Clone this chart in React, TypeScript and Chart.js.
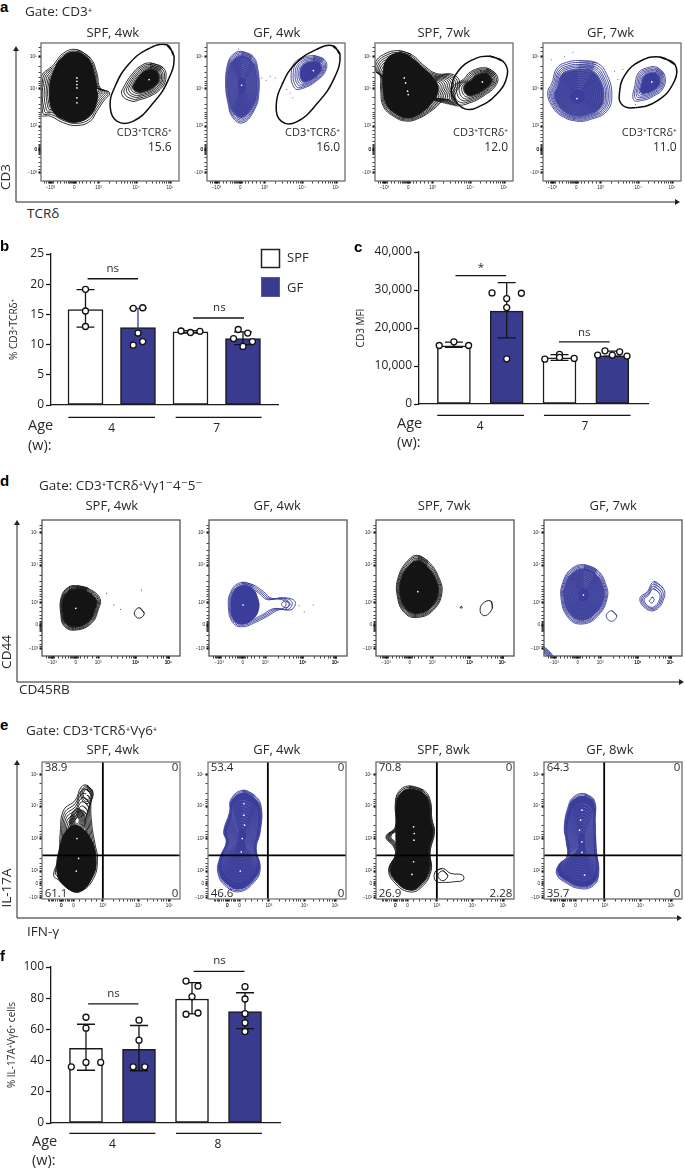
import React, { useEffect, useRef } from "react";
import { Chart, registerables } from "chart.js";
Chart.register(...registerables);

type P = [number, number];
type Blob = { outline: P[]; center: P; levels: number[]; coreK?: number; coreShape?: P[]; mesh?: number[] };

const FONT = '"Open Sans", "DejaVu Sans", sans-serif';
const BLACK = "#141414";
const BLUE = "#3a3d9a";
const BAR_BLUE = "#393b8f";

// contour levels: fraction of the outer contour kept by each inner contour
const RIM_WIDE = [1, .95, .9, .85, .8, .76, .72, .68];
const RIM_MID = [1, .95, .9, .86, .82, .78];
const RIM_THIN = [1, .96, .92, .88, .85];
const RIM_TIGHT = [1, .975];
const SIDE_RINGS = [1, .91, .82, .74, .66, .6];
const LOOSE = [1, .88, .76, .64, .52, .4, .28];
const BRIDGE = [1, .96, .92, .88, .84, .8, .76, .72, .68, .64, .6, .56, .52];
const RINGS = [1, .8, .6, .4];
const SINGLE = [1];
const BODY_RINGS = [1, .93, .86, .79, .72, .65, .58];
const BUMP_RINGS = [1, .97, .94, .91, .88, .85, .82];
const MESH = [.8, .74, .68, .62, .56, .5, .44, .38, .32, .26];

// ---------- panel a: CD3 vs TCRd (axis units of the transformed channel)
const A1_MAIN: P[] = [[108, 20], [148, 45], [168, 90], [178, 135], [206, 150], [188, 175], [168, 205], [148, 235], [108, 248], [68, 240], [28, 220], [0, 215], [0, 105], [38, 65], [68, 30]];
const A1_CORE: P[] = [[108, 28], [145, 52], [160, 95], [168, 140], [168, 175], [150, 215], [108, 238], [68, 230], [36, 205], [26, 150], [36, 90], [68, 40]];
const A1_SIDE: P[] = [[328, 60], [368, 75], [375, 110], [358, 140], [328, 160], [298, 170], [273, 175], [243, 155], [253, 125], [273, 95], [298, 70]];
const A1_GATE: P[] = [[378, 5], [400, 40], [383, 110], [338, 180], [278, 235], [228, 235], [208, 190], [223, 130], [263, 65], [318, 20]];
const A1_BRIGHT: P[] = [[108, 105], [108, 115], [108, 125], [108, 135], [108, 165], [108, 180], [325, 110]];
const A2_MAIN: P[] = [[103, 25], [138, 40], [153, 80], [156, 150], [143, 200], [108, 240], [78, 225], [63, 180], [56, 120], [63, 60], [78, 35]];
const A2_SIDE: P[] = [[318, 38], [353, 50], [358, 80], [328, 115], [283, 138], [263, 135], [253, 95], [268, 55]];
const A2_GATE: P[] = [[378, 8], [400, 35], [383, 105], [333, 180], [268, 238], [223, 235], [208, 190], [228, 120], [268, 60], [328, 20]];
const A2_DOTS: P[] = [[165, 105], [178, 112], [190, 100], [205, 105], [225, 120], [240, 140], [258, 165], [250, 150], [95, 18]];
const A3_MAIN: P[] = [[70, 23], [110, 35], [150, 70], [185, 92], [235, 95], [255, 120], [240, 160], [250, 190], [215, 170], [175, 200], [135, 225], [95, 235], [55, 220], [25, 190], [17, 140], [15, 95], [0, 85], [0, 60], [25, 35]];
const A3_CORE: P[] = [[70, 30], [105, 42], [145, 75], [175, 105], [190, 140], [170, 180], [130, 215], [95, 225], [60, 210], [35, 185], [25, 140], [25, 90], [35, 50]];
const A3_SIDE: P[] = [[335, 75], [365, 95], [365, 125], [325, 160], [285, 180], [250, 185], [230, 160], [235, 130], [265, 110], [290, 85]];
const A3_GATE: P[] = [[345, 40], [385, 55], [398, 95], [365, 155], [305, 195], [270, 198], [240, 170], [230, 135], [250, 85], [295, 50]];
const A3_BRIGHT: P[] = [[100, 155], [98, 145], [92, 120], [88, 105], [323, 117]];
const A4_MAIN: P[] = [[107, 53], [162, 60], [192, 95], [207, 155], [192, 205], [142, 230], [102, 235], [57, 220], [27, 190], [14, 150], [27, 120], [42, 75], [72, 58]];
const A4_SIDE: P[] = [[342, 73], [365, 95], [362, 135], [332, 160], [297, 173], [272, 170], [277, 125], [287, 90], [312, 75]];
const A4_GATE: P[] = [[352, 42], [397, 65], [395, 115], [342, 175], [272, 195], [237, 185], [230, 150], [247, 95], [292, 55]];
const A4_DOTS: P[] = [[25, 50], [65, 40], [90, 28], [215, 85], [240, 80], [225, 110], [278, 185]];

// ---------- panel d: CD44 vs CD45RB
const D1_MAIN: P[] = [[103, 197], [138, 205], [173, 235], [168, 270], [148, 310], [103, 330], [68, 320], [56, 280], [58, 230], [78, 202]];
const D1_SPOT: P[] = [[291, 263], [306, 280], [291, 295], [276, 280]];
const D1_DOTS: P[] = [[193, 220], [215, 255], [235, 268], [298, 210]];
const D2_MAIN: P[] = [[98, 187], [133, 195], [163, 215], [188, 235], [223, 233], [253, 240], [258, 255], [243, 270], [213, 268], [173, 290], [143, 305], [103, 320], [73, 310], [58, 260], [68, 210]];
const D2_CORE: P[] = [[98, 198], [128, 205], [145, 232], [148, 270], [128, 300], [100, 312], [76, 302], [66, 260], [74, 215]];
const D2_SPOT: P[] = [[230, 243], [243, 253], [230, 263], [217, 253]];
const D2_DOTS: P[] = [[270, 257], [285, 275], [312, 255]];
const D3_MAIN: P[] = [[125, 106], [157, 125], [187, 170], [197, 220], [172, 270], [127, 292], [87, 280], [64, 230], [67, 170], [97, 120]];
const D3_TINY: P[] = [[255, 259], [258, 262], [255, 265], [252, 262]];
const D3_SPOT: P[] = [[344, 243], [348, 265], [327, 287], [312, 275], [320, 250]];
const D4_MAIN: P[] = [[119, 134], [159, 150], [184, 190], [189, 235], [159, 290], [114, 312], [74, 295], [51, 235], [59, 180], [84, 145]];
const D4_RING: P[] = [[202, 272], [218, 288], [202, 304], [186, 288]];
const D4_RIGHT: P[] = [[329, 185], [357, 205], [359, 235], [334, 270], [304, 265], [287, 235], [309, 215]];
const D4_CORNER: P[] = [[0, 383], [25, 408], [0, 433], [-25, 408]];

// ---------- panel e: IL-17A vs IFN-g
const E1_OUTER: P[] = [[135, 70], [153, 90], [147, 125], [150, 190], [160, 250], [167, 290], [155, 350], [115, 390], [85, 385], [50, 355], [35, 340], [50, 290], [55, 210], [65, 145], [100, 115], [118, 75]];
const E1_LOW: P[] = [[103, 190], [140, 220], [162, 290], [150, 350], [110, 390], [65, 370], [45, 330], [55, 250], [75, 205]];
const E1_MID: P[] = [[110, 140], [128, 160], [125, 200], [105, 215], [85, 195], [90, 155]];
const E1_TOP: P[] = [[135, 72], [152, 90], [148, 115], [135, 125], [120, 112], [118, 88]];
const E1_BRIGHT: P[] = [[103, 328], [105, 230], [135, 97], [110, 290], [105, 175]];
const E2_MAIN: P[] = [[105, 85], [140, 100], [160, 135], [157, 210], [145, 260], [157, 320], [140, 360], [95, 390], [55, 375], [30, 335], [35, 290], [55, 240], [47, 210], [65, 150], [70, 110]];
const E2_BRIGHT: P[] = [[108, 125], [100, 270], [97, 328], [110, 190], [108, 160], [103, 230]];
const E3_MAIN: P[] = [[98, 72], [143, 85], [163, 115], [168, 170], [176, 210], [163, 270], [165, 330], [133, 380], [98, 390], [58, 365], [38, 325], [58, 280], [53, 255], [30, 225], [58, 195], [58, 125], [68, 90]];
const E3_BODY: P[] = [[100, 82], [143, 95], [158, 122], [162, 175], [170, 210], [157, 270], [158, 330], [128, 375], [98, 384], [62, 360], [44, 325], [62, 280], [60, 240], [60, 195], [62, 130], [72, 98]];
const E3_TAIL: P[] = [[178, 330], [200, 320], [225, 335], [260, 340], [262, 355], [235, 360], [210, 362], [180, 358]];
const E3_SPOT: P[] = [[201, 327], [216, 342], [201, 357], [186, 342]];
const E3_BRIGHT: P[] = [[115, 215], [113, 300], [108, 338], [113, 195], [114, 235]];
const E4_MAIN: P[] = [[121, 95], [151, 115], [154, 180], [157, 260], [164, 340], [144, 375], [104, 380], [69, 365], [39, 340], [44, 310], [69, 285], [67, 240], [61, 195], [74, 130], [89, 105]];
const E4_BRIGHT: P[] = [[114, 145], [107, 205], [114, 272], [122, 340], [110, 175], [114, 240]];

// ---------- tick positions and labels of the flow axes
const MINOR_X_TICKS = [12, 18, 23, 26, 29, 32, 35, 38, 50, 60, 70, 78, 84, 87, 90, 93, 96, 99, 102, 105, 108, 116, 126, 136, 150, 162, 207, 227, 241, 252, 261, 268, 275, 281, 317, 335, 347, 357, 365, 372, 378, 383];
const MINOR_Y_TICKS = [15, 25, 70, 90, 105, 115, 122, 128, 165, 185, 198, 208, 215, 222, 228, 238, 262, 275, 285, 295, 305, 308, 311, 314, 317, 320, 323, 326, 329, 332, 335, 345, 360, 372, 380];
const E_MINOR_X_TICKS = [20, 24, 28, 32, 36, 40, 46, 52, 58, 64, 70, 76, 80, 84, 88, 112, 130, 150, 165, 215, 232, 245, 258, 266, 273, 278, 318, 336, 348, 358, 366, 373, 379];
const E_MINOR_Y_TICKS = [65, 95, 112, 120, 125, 162, 190, 208, 218, 224, 260, 290, 305, 315, 320, 345, 352, 358, 372, 380, 388, 395, 400];
const A_X_TICKS = [28, 100, 173, 286, 388];
const A_Y_TICKS = [40, 138, 250, 320, 390];
const D_X_TICKS = [30, 101, 168, 281, 378];
const D_Y_TICKS = [37, 135, 248, 315, 385];
const E_X_TICKS = [58, 95, 183, 290, 383];
const E_Y_TICKS = [37, 133, 230, 328, 365, 407];
const LOG_X_LABELS = ["−10³", "0", "10³", "10⁴", "10⁵"];
const LOG_Y_LABELS = ["10⁵", "10⁴", "10³", "0", "−10³"];
const E_X_LABELS = ["0", "0", "10³", "10⁴", "10⁵"];
const E_Y_LABELS = ["10⁵", "10⁴", "10³", "10²", "0", "−10²"];

// ---------- bar panels
const B_CATEGORIES = [0, 1, 2, 3];
const B_MEANS = [15.8, 12.8, 12.1, 11.0];
const B_HIGH = [19.1, 16.0, 12.3, 12.1];
const B_LOW = [12.9, 9.7, 11.9, 10.0];
const B_DOTS: P[] = [[0, 19.15], [0, 15.56], [0, 13.0], [.91, 16.0], [1.09, 16.1], [1, 11.9], [1.09, 10.5], [.91, 9.9], [1.82, 12.25], [2, 12.0], [2.18, 12.2], [3, 9.7], [2.91, 12.5], [3.09, 11.9], [2.82, 11.0], [3.18, 10.5]];
const C_CATEGORIES = [0, 1, 2, 3];
const C_MEANS = [15300, 24420, 12170, 12690];
const C_HIGH = [16300, 31950, 13000, 13900];
const C_LOW = [14900, 17400, 11500, 12600];
const C_DOTS: P[] = [[-.278, 15400], [0, 16370], [.278, 15400], [.722, 29230], [1.278, 29150], [1, 27750], [1, 25380], [1, 11900], [1.722, 11800], [2, 13040], [2.278, 11990], [2, 12250], [2.722, 12870], [2.861, 14000], [3, 12870], [3.139, 13740], [3.278, 12600]];
const F_CATEGORIES = [0, 1, 2, 3];
const F_MEANS = [47.8, 47.3, 79.5, 71.4];
const F_HIGH = [63.3, 62.5, 90, 83.5];
const F_LOW = [33.8, 33.5, 70, 60.5];
const F_DOTS: P[] = [[0, 67.8], [0, 60.8], [-.277, 36], [0, 38.8], [.277, 38.8], [1, 65.9], [1, 53.1], [.89, 36], [1.11, 36], [1.887, 91], [2.113, 87.8], [2, 81], [1.887, 69.7], [2.113, 70.5], [3, 87.4], [3, 79.5], [3, 70.1], [3, 64.2], [3, 58.6]];

type Note = { t: string; x: number; y: number; a?: CanvasTextAlign; s?: number };

function ring(pts: P[], c: P, k: number) {
  const out = pts.map(([x, y]) => ({ x: c[0] + (x - c[0]) * k, y: c[1] + (y - c[1]) * k }));
  return [...out, out[0], out[1]];
}
function blobSets(blobs: Blob[], color: string, width: number) {
  const sets: any[] = [];
  const base = { type: "line", borderColor: color, borderWidth: width, pointRadius: 0, tension: 0.45, order: 6 };
  blobs.forEach((b) => {
    b.levels.forEach((k) => sets.push({ ...base, data: ring(b.outline, b.center, k), fill: false }));
    if (b.coreK !== undefined) sets.push({ ...base, data: ring(b.outline, b.center, b.coreK), fill: "shape", backgroundColor: color });
    if (b.coreShape) sets.push({ ...base, data: ring(b.coreShape, b.center, 1), fill: "shape", backgroundColor: color });
    (b.mesh ?? []).forEach((k) => sets.push({ ...base, order: 5, data: ring(b.outline, b.center, k), fill: false, borderColor: "rgba(255,255,255,0.13)", borderWidth: 0.7 }));
  });
  return sets;
}
const notesPlugin = (notes: Note[], frame?: { color: string; width: number }) => ({
  id: "notes",
  afterDraw(chart: any) {
    const ctx = chart.ctx;
    ctx.save();
    if (frame) {
      const a = chart.chartArea;
      ctx.strokeStyle = frame.color;
      ctx.lineWidth = frame.width;
      ctx.strokeRect(a.left, a.top, a.right - a.left, a.bottom - a.top);
    }
    notes.forEach((n) => {
      ctx.font = `${n.s ?? 11}px ${FONT}`;
      ctx.fillStyle = "#2a2a2a";
      ctx.textAlign = n.a ?? "center";
      ctx.textBaseline = "middle";
      ctx.fillText(n.t, chart.scales.x.getPixelForValue(n.x), chart.scales.y.getPixelForValue(n.y));
    });
    ctx.restore();
  },
});

type Flow = {
  left: number; top: number; w: number; h: number; xMax: number; yMax: number; color: string; title: string; titleX: number; titleY: number;
  blobs: Blob[]; gate?: P[]; dots?: P[]; bright?: P[]; notes: Note[]; kind: "a" | "d" | "e"; frame: string; quad?: [number, number];
};

const gateNote = (x: number, v: string): Note[] => [{ t: "CD3⁺TCRδ⁺", x, y: 270, a: "right" }, { t: v, x, y: 315, a: "right", s: 12 }];
const corners = (a: string, b: string, c: string, d: string): Note[] => [
  { t: a, x: 8, y: 18, a: "left", s: 11.5 }, { t: b, x: 410, y: 18, a: "right", s: 11.5 }, { t: c, x: 8, y: 397, a: "left", s: 11.5 }, { t: d, x: 410, y: 397, a: "right", s: 11.5 },
];

const FLOWS: Flow[] = [
  { left: 41, top: 43, w: 138, h: 138, xMax: 415, yMax: 415, color: BLACK, title: "SPF, 4wk", titleX: 216, titleY: -30, kind: "a", frame: "#6e6e6e", gate: A1_GATE, bright: A1_BRIGHT,
    blobs: [{ outline: A1_MAIN, center: [108, 120], levels: RIM_WIDE, coreShape: A1_CORE }, { outline: A1_SIDE, center: [325, 110], levels: SIDE_RINGS, coreK: .58 }], notes: gateNote(393, "15.6") },
  { left: 207, top: 43, w: 138, h: 138, xMax: 415, yMax: 415, color: BLUE, title: "GF, 4wk", titleX: 210, titleY: -30, kind: "a", frame: "#6e6e6e", gate: A2_GATE, dots: A2_DOTS, bright: [[104, 127], [320, 83]],
    blobs: [{ outline: A2_MAIN, center: [104, 127], levels: RIM_THIN, coreK: .84, mesh: MESH }, { outline: A2_SIDE, center: [320, 83], levels: SIDE_RINGS, coreK: .58 }], notes: gateNote(400, "16.0") },
  { left: 375, top: 43, w: 138, h: 138, xMax: 415, yMax: 415, color: BLACK, title: "SPF, 7wk", titleX: 207, titleY: -30, kind: "a", frame: "#6e6e6e", gate: A3_GATE, bright: A3_BRIGHT,
    blobs: [{ outline: A3_MAIN, center: [100, 155], levels: BRIDGE, coreShape: A3_CORE }, { outline: A3_SIDE, center: [323, 117], levels: SIDE_RINGS, coreK: .58 }], notes: gateNote(400, "12.0") },
  { left: 543, top: 43, w: 138, h: 138, xMax: 415, yMax: 415, color: BLUE, title: "GF, 7wk", titleX: 203, titleY: -30, kind: "a", frame: "#6e6e6e", gate: A4_GATE, dots: A4_DOTS, bright: [[102, 167], [327, 117]],
    blobs: [{ outline: A4_MAIN, center: [102, 167], levels: RIM_MID, coreK: .76, mesh: MESH.slice(1) }, { outline: A4_SIDE, center: [327, 117], levels: SIDE_RINGS, coreK: .58 }], notes: gateNote(402, "11.0") },

  { left: 42, top: 520, w: 138, h: 136, xMax: 413, yMax: 408, color: BLACK, title: "SPF, 4wk", titleX: 209, titleY: -42, kind: "d", frame: "#555", dots: D1_DOTS, bright: [[101, 265]],
    blobs: [{ outline: D1_MAIN, center: [101, 265], levels: RIM_THIN, coreK: .84 }, { outline: D1_SPOT, center: [291, 280], levels: SINGLE }], notes: [] },
  { left: 209, top: 520, w: 138, h: 136, xMax: 413, yMax: 408, color: BLUE, title: "GF, 4wk", titleX: 204, titleY: -42, kind: "d", frame: "#555", dots: D2_DOTS, bright: [[102, 255]],
    blobs: [{ outline: D2_MAIN, center: [102, 255], levels: [1, .94, .88, .82], coreShape: D2_CORE }, { outline: D2_SPOT, center: [230, 253], levels: SINGLE }], notes: [] },
  { left: 376, top: 520, w: 138, h: 136, xMax: 413, yMax: 408, color: BLACK, title: "SPF, 7wk", titleX: 204, titleY: -42, kind: "d", frame: "#555", bright: [[125, 215]],
    blobs: [{ outline: D3_MAIN, center: [125, 215], levels: RIM_THIN, coreK: .84 }, { outline: D3_TINY, center: [255, 262], levels: SINGLE }, { outline: D3_SPOT, center: [330, 265], levels: SINGLE }], notes: [] },
  { left: 544, top: 520, w: 138, h: 136, xMax: 413, yMax: 408, color: BLUE, title: "GF, 7wk", titleX: 207, titleY: -42, kind: "d", frame: "#555", bright: [[118, 225]],
    blobs: [{ outline: D4_MAIN, center: [118, 225], levels: RIM_THIN, coreK: .84, mesh: MESH }, { outline: D4_RING, center: [202, 288], levels: SINGLE }, { outline: D4_RIGHT, center: [322, 243], levels: [1, .88, .76, .64, .2] }, { outline: D4_CORNER, center: [0, 408], levels: RINGS }], notes: [] },

  { left: 42, top: 762, w: 138, h: 137, xMax: 415, yMax: 412, color: BLACK, title: "SPF, 4wk", titleX: 213, titleY: -35, kind: "e", frame: "#7a7a7a", quad: [183, 281], bright: E1_BRIGHT,
    blobs: [{ outline: E1_OUTER, center: [105, 250], levels: BODY_RINGS }, { outline: E1_LOW, center: [103, 328], levels: [], coreK: 1 }, { outline: E1_MID, center: [105, 175], levels: LOOSE }, { outline: E1_TOP, center: [135, 97], levels: [1, .8, .6] }],
    notes: corners("38.9", "0", "61.1", "0") },
  { left: 208, top: 762, w: 138, h: 137, xMax: 415, yMax: 412, color: BLUE, title: "GF, 4wk", titleX: 207, titleY: -35, kind: "e", frame: "#7a7a7a", quad: [180, 281], bright: E2_BRIGHT,
    blobs: [{ outline: E2_MAIN, center: [100, 235], levels: RIM_TIGHT, coreK: .95, mesh: MESH }],
    notes: corners("53.4", "0", "46.6", "0") },
  { left: 376, top: 762, w: 138, h: 137, xMax: 415, yMax: 412, color: BLACK, title: "SPF, 8wk", titleX: 203, titleY: -35, kind: "e", frame: "#6a6a6a", quad: [183, 281], bright: E3_BRIGHT,
    blobs: [{ outline: E3_MAIN, center: [113, 215], levels: BUMP_RINGS, coreShape: E3_BODY }, { outline: E3_TAIL, center: [215, 342], levels: SINGLE }, { outline: E3_SPOT, center: [201, 342], levels: SINGLE }],
    notes: corners("70.8", "0", "26.9", "2.28") },
  { left: 544, top: 762, w: 138, h: 137, xMax: 415, yMax: 412, color: BLUE, title: "GF, 8wk", titleX: 198, titleY: -35, kind: "e", frame: "#6a6a6a", quad: [181, 281], bright: E4_BRIGHT,
    blobs: [{ outline: E4_MAIN, center: [114, 250], levels: RIM_TIGHT, coreK: .95, mesh: MESH }],
    notes: corners("64.3", "0", "35.7", "0") },
];

const TICKS = {
  a: { xm: A_X_TICKS, ym: A_Y_TICKS, xn: MINOR_X_TICKS, yn: MINOR_Y_TICKS, xl: LOG_X_LABELS, yl: LOG_Y_LABELS },
  d: { xm: D_X_TICKS, ym: D_Y_TICKS, xn: MINOR_X_TICKS, yn: MINOR_Y_TICKS, xl: LOG_X_LABELS, yl: LOG_Y_LABELS },
  e: { xm: E_X_TICKS, ym: E_Y_TICKS, xn: E_MINOR_X_TICKS, yn: E_MINOR_Y_TICKS, xl: E_X_LABELS, yl: E_Y_LABELS },
};
const FLOW_PAD = { l: 30, t: 28, r: 8, b: 20 };

function flowAxis(major: number[], minor: number[], labels: string[], max: number, reverse: boolean, fit: (s: any) => void) {
  const all = [...major, ...minor].sort((a, b) => a - b);
  return {
    type: "linear", min: 0, max, reverse, afterFit: fit,
    afterBuildTicks: (s: any) => { s.ticks = all.map((value) => ({ value })); },
    grid: {
      drawOnChartArea: false, tickLength: 2.5, tickColor: "#111",
      tickWidth: (c: any) => (c.tick && major.includes(c.tick.value) ? 2.2 : 0.8),
    },
    border: { display: false },
    ticks: {
      autoSkip: false, maxRotation: 0, padding: 1.5, color: "#222", font: { size: 4.6, family: '"Liberation Sans", sans-serif' },
      callback: (v: number) => { const i = major.indexOf(v); return i >= 0 ? labels[i] : ""; },
    },
  };
}

function makeFlow(canvas: HTMLCanvasElement, f: Flow) {
  const t = TICKS[f.kind];
  const datasets: any[] = blobSets(f.blobs, f.color, 0.9);
  if (f.gate) datasets.push({ type: "line", data: ring(f.gate, [0, 0], 1), borderColor: "#0c0c0c", borderWidth: 1.5, pointRadius: 0, tension: 0.45, fill: false, order: 2 });
  if (f.dots) datasets.push({ type: "line", data: f.dots.map(([x, y]) => ({ x, y })), showLine: false, pointRadius: 0.5, pointBorderWidth: 0, pointBackgroundColor: f.color, order: 3 });
  if (f.bright) datasets.push({ type: "line", data: f.bright.map(([x, y]) => ({ x, y })), showLine: false, pointRadius: 0.85, pointBorderWidth: 0, pointBackgroundColor: "#fff", order: 1 });
  if (f.quad) {
    datasets.push({ type: "line", data: [{ x: f.quad[0], y: 0 }, { x: f.quad[0], y: f.yMax }], borderColor: "#000", borderWidth: 1.8, pointRadius: 0, order: 1 });
    datasets.push({ type: "line", data: [{ x: 0, y: f.quad[1] }, { x: f.xMax, y: f.quad[1] }], borderColor: "#000", borderWidth: 1.8, pointRadius: 0, order: 1 });
  }
  const notes: Note[] = [{ t: f.title, x: f.titleX, y: f.titleY, s: 13 }, ...f.notes];
  return new Chart(canvas, {
    type: "line",
    data: { datasets },
    plugins: [notesPlugin(notes, { color: f.frame, width: 1.3 })],
    options: {
      animation: false, responsive: false, events: [],
      layout: { padding: { left: 0, top: FLOW_PAD.t, right: FLOW_PAD.r, bottom: 0 } },
      plugins: { legend: { display: false }, tooltip: { enabled: false }, title: { display: false } },
      scales: {
        x: flowAxis(t.xm, t.xn, t.xl, f.xMax, false, (s: any) => { s.height = FLOW_PAD.b; }),
        y: flowAxis(t.ym, t.yn, t.yl, f.yMax, true, (s: any) => { s.width = FLOW_PAD.l; }),
      },
    } as any,
  } as any);
}

type BarCfg = {
  left: number; top: number; width: number; height: number; padTop: number; padRight: number; axisLeft: number; scaleH: number;
  cats: number[]; means: number[]; high: number[]; low: number[]; dots: P[]; errColors: string[]; cap: number; barW: number;
  xMin: number; xMax: number; yMax: number; step: number; yTitle: string; titleFont: number; titlePad: number;
  groups: string[]; groupTicks: number[]; groupLines: [number, number][]; groupY: number; tickPad: number;
  sig: { x0: number; x1: number; y: number; t: string; tx: number; ty: number }[];
};

const BARS: BarCfg[] = [
  { left: 0, top: 235, width: 345, height: 230, padTop: 19, padRight: 67, axisLeft: 51, scaleH: 60, cats: B_CATEGORIES, means: B_MEANS, high: B_HIGH, low: B_LOW, dots: B_DOTS,
    errColors: [BLACK, BLUE, BLACK, BLACK], cap: .17, barW: 35, xMin: -.657, xMax: 3.667, yMax: 25, step: 5, yTitle: "% CD3⁺TCRδ⁺", titleFont: 10, titlePad: 8,
    groups: ["4", "7"], groupTicks: [.5, 2.5], groupLines: [[-.327, 1.324], [1.718, 3.356]], groupY: -2.04, tickPad: 16,
    sig: [{ x0: .04, x1: 1, y: 20.9, t: "ns", tx: .52, ty: 22.6 }, { x0: 2.05, x1: 3.02, y: 14.4, t: "ns", tx: 2.55, ty: 16.1 }] },
  { left: 340, top: 235, width: 345, height: 230, padTop: 17, padRight: 37, axisLeft: 79, scaleH: 61, cats: C_CATEGORIES, means: C_MEANS, high: C_HIGH, low: C_LOW, dots: C_DOTS,
    errColors: [BLACK, BLACK, BLACK, BLACK], cap: .17, barW: 33, xMin: -.661, xMax: 3.676, yMax: 40000, step: 10000, yTitle: "CD3 MFI", titleFont: 10, titlePad: 15,
    groups: ["4", "7"], groupTicks: [.5, 2.48], groupLines: [[-.316, 1.326], [1.705, 3.346]], groupY: -2976, tickPad: 15,
    sig: [{ x0: .03, x1: .99, y: 33785, t: "*", tx: .51, ty: 35900 }, { x0: 1.99, x1: 2.95, y: 16370, t: "ns", tx: 2.47, ty: 18800 }] },
  { left: 0, top: 940, width: 345, height: 228, padTop: 27, padRight: 65, axisLeft: 51, scaleH: 45, cats: F_CATEGORIES, means: F_MEANS, high: F_HIGH, low: F_LOW, dots: F_DOTS,
    errColors: [BLACK, BLACK, BLACK, BLACK], cap: .17, barW: 33, xMin: -.66, xMax: 3.66, yMax: 100, step: 20, yTitle: "% IL-17A⁺Vγ6⁺ cells", titleFont: 10, titlePad: 6,
    groups: ["4", "8"], groupTicks: [.5, 2.49], groupLines: [[-.314, 1.308], [1.698, 3.32]], groupY: -6.6, tickPad: 14,
    sig: [{ x0: .04, x1: .99, y: 76.3, t: "ns", tx: .52, ty: 83 }, { x0: 2.03, x1: 2.99, y: 97.2, t: "ns", tx: 2.52, ty: 103.8 }] },
];

function makeBar(canvas: HTMLCanvasElement, b: BarCfg) {
  const seg = (data: { x: number; y: number }[], color = BLACK, w = 1.3) => ({ type: "line", data, borderColor: color, borderWidth: w, pointRadius: 0, tension: 0, fill: false, clip: false, order: 3 });
  const datasets: any[] = [
    {
      type: "bar", data: b.cats.map((x, i) => ({ x, y: b.means[i] })), barThickness: b.barW, grouped: false,
      backgroundColor: b.cats.map((x) => (x % 2 ? BAR_BLUE : "#ffffff")), borderColor: "#1b1b1b", borderWidth: 1.5, borderSkipped: false, order: 5,
    },
    ...b.cats.map((x, i) => seg([
      { x: x - b.cap, y: b.high[i] }, { x: x + b.cap, y: b.high[i] }, { x, y: b.high[i] }, { x, y: b.low[i] }, { x: x - b.cap, y: b.low[i] }, { x: x + b.cap, y: b.low[i] },
    ], b.errColors[i])),
    ...b.sig.map((s) => seg([{ x: s.x0, y: s.y }, { x: s.x1, y: s.y }])),
    ...b.groupLines.map(([a, z]) => seg([{ x: a, y: b.groupY }, { x: z, y: b.groupY }])),
    { type: "line", data: b.dots.map(([x, y]) => ({ x, y })), showLine: false, pointRadius: 3, pointBackgroundColor: "#fff", pointBorderColor: "#111", pointBorderWidth: 1.3, clip: false, order: 1 },
  ];
  const notes: Note[] = b.sig.map((s) => ({ t: s.t, x: s.tx, y: s.ty, s: 11.5 }));
  return new Chart(canvas, {
    type: "line",
    data: { datasets },
    plugins: [notesPlugin(notes)],
    options: {
      animation: false, responsive: false, events: [],
      layout: { padding: { left: 0, top: b.padTop, right: b.padRight, bottom: 0 } },
      plugins: { legend: { display: false }, tooltip: { enabled: false } },
      scales: {
        x: {
          type: "linear", min: b.xMin, max: b.xMax, offset: false,
          afterFit: (s: any) => { s.height = b.scaleH; },
          afterBuildTicks: (s: any) => { s.ticks = b.groupTicks.map((value) => ({ value })); },
          grid: { drawOnChartArea: false, drawTicks: false, offset: false },
          border: { display: true, color: "#1b1b1b", width: 1.3 },
          ticks: { autoSkip: false, maxRotation: 0, padding: b.tickPad, color: "#222", font: { size: 12, family: FONT }, callback: (_v: number, i: number) => b.groups[i] },
        },
        y: {
          type: "linear", min: 0, max: b.yMax,
          afterFit: (s: any) => { s.width = b.axisLeft; },
          grid: { drawOnChartArea: false, tickLength: 5, tickColor: "#1b1b1b", tickWidth: 1.3 },
          border: { display: true, color: "#1b1b1b", width: 1.3 },
          ticks: { stepSize: b.step, padding: 2, color: "#222", font: { size: 12, family: FONT } },
          title: { display: true, text: b.yTitle, color: "#2a2a2a", font: { size: b.titleFont, family: FONT }, padding: { top: b.titlePad, bottom: 0 } },
        },
      },
    } as any,
  } as any);
}

type Txt = { t: string; x: number; y: number; s?: number; b?: boolean; rot?: boolean };
const TEXTS: Txt[] = [
  { t: "a", x: 0, y: 6, s: 15, b: true }, { t: "b", x: 0, y: 245, s: 15, b: true }, { t: "c", x: 354, y: 246, s: 15, b: true },
  { t: "d", x: 0, y: 480, s: 15, b: true }, { t: "e", x: 0, y: 724, s: 15, b: true }, { t: "f", x: 0, y: 955, s: 15, b: true },
  { t: "Gate: CD3⁺", x: 25, y: 12, s: 13.5 }, { t: "Gate: CD3⁺TCRδ⁺Vγ1⁻4⁻5⁻", x: 39, y: 486, s: 13.5 }, { t: "Gate: CD3⁺TCRδ⁺Vγ6⁺", x: 26, y: 731, s: 13.5 },
  { t: "TCRδ", x: 27, y: 214, s: 13.5 }, { t: "CD45RB", x: 19, y: 690, s: 13.5 }, { t: "IFN-γ", x: 27, y: 932, s: 13.5 },
  { t: "CD3", x: 6, y: 177, rot: true, s: 13.5 }, { t: "CD44", x: 7, y: 652, rot: true, s: 13.5 }, { t: "IL-17A", x: 7, y: 888, rot: true, s: 13.5 },
  { t: "Age", x: 28, y: 425, s: 14.5 }, { t: "(w):", x: 28, y: 445, s: 14.5 },
  { t: "Age", x: 397, y: 423, s: 14.5 }, { t: "(w):", x: 397, y: 442, s: 14.5 },
  { t: "Age", x: 32, y: 1141, s: 14.5 }, { t: "(w):", x: 32, y: 1160, s: 14.5 },
  { t: "SPF", x: 287, y: 257, s: 13 }, { t: "GF", x: 287, y: 287, s: 13 },
];
const ARROWS: [number, number, number][] = [[16, 46, 202], [17, 520, 682], [17, 760, 918]];
const ARROW_END = [680, 684, 682];

export default function App() {
  const flowRefs = useRef<(HTMLCanvasElement | null)[]>([]);
  const barRefs = useRef<(HTMLCanvasElement | null)[]>([]);
  useEffect(() => {
    const charts = [
      ...FLOWS.map((f, i) => makeFlow(flowRefs.current[i]!, f)),
      ...BARS.map((b, i) => makeBar(barRefs.current[i]!, b)),
    ];
    return () => charts.forEach((c) => c.destroy());
  }, []);
  return (
    <div style={{ position: "absolute", left: 0, top: 0, width: 685, height: 1168, overflow: "hidden", background: "#fff", fontFamily: FONT, color: "#2a2a2a" }}>
      <svg width={685} height={1168} style={{ position: "absolute", left: 0, top: 0 }}>
        {ARROWS.map(([x, y0, y1], i) => (
          <g key={i} fill="#222" stroke="#222">
            <line x1={x} y1={y0 + 3} x2={x} y2={y1} strokeWidth={1} />
            <line x1={x} y1={y1} x2={ARROW_END[i] - 3} y2={y1} strokeWidth={1} />
            <polygon points={`${x - 3},${y0 + 5} ${x + 3},${y0 + 5} ${x},${y0}`} strokeWidth={0} />
            <polygon points={`${ARROW_END[i] - 5},${y1 - 3} ${ARROW_END[i] - 5},${y1 + 3} ${ARROW_END[i]},${y1}`} strokeWidth={0} />
          </g>
        ))}
        <rect x={261.5} y={249.5} width={18} height={18} fill="#fff" stroke="#222" strokeWidth={1.5} />
        <rect x={261.5} y={277.5} width={18} height={19} fill={BAR_BLUE} stroke="#5558a8" strokeWidth={1} />
      </svg>
      {FLOWS.map((f, i) => (
        <canvas key={i} ref={(el) => { flowRefs.current[i] = el; }} width={FLOW_PAD.l + f.w + FLOW_PAD.r} height={FLOW_PAD.t + f.h + FLOW_PAD.b}
          style={{ position: "absolute", left: f.left - FLOW_PAD.l, top: f.top - FLOW_PAD.t }} />
      ))}
      {BARS.map((b, i) => (
        <canvas key={i} ref={(el) => { barRefs.current[i] = el; }} width={b.width} height={b.height} style={{ position: "absolute", left: b.left, top: b.top }} />
      ))}
      {TEXTS.map((t, i) => (
        <div key={i} style={{
          position: "absolute", left: t.x, top: t.y, whiteSpace: "nowrap", lineHeight: 1, fontSize: t.s ?? 12, fontWeight: t.b ? 700 : 400,
          fontFamily: t.b ? '"Liberation Sans", sans-serif' : FONT, color: t.b ? "#000" : "#2a2a2a",
          transform: t.rot ? "translate(-50%,-50%) rotate(-90deg)" : "translateY(-50%)", transformOrigin: "center",
        }}>{t.t}</div>
      ))}
    </div>
  );
}
